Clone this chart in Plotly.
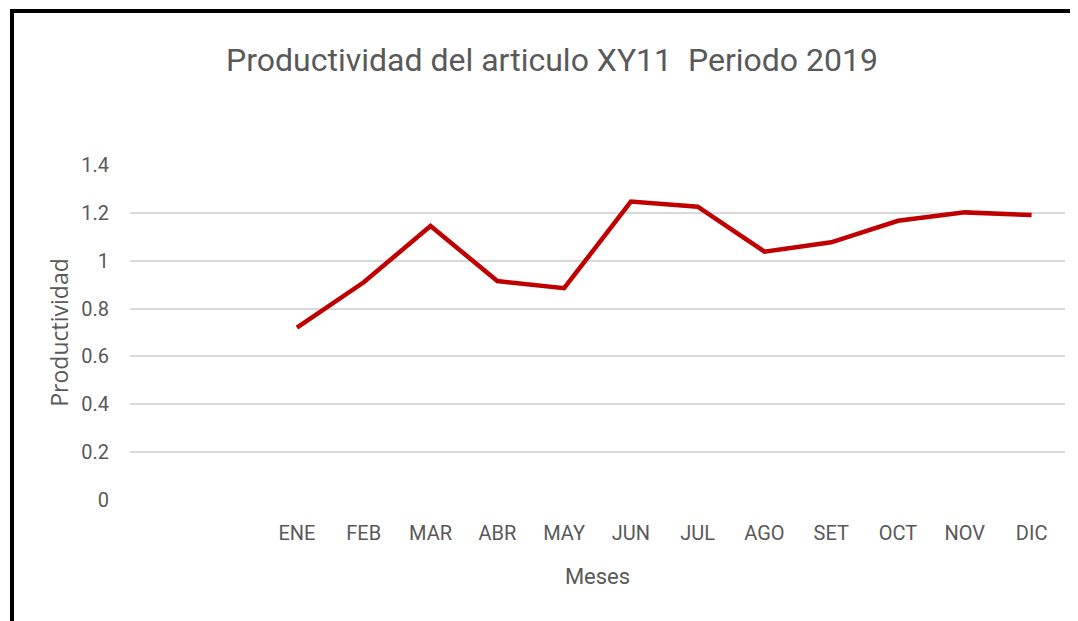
import plotly.graph_objects as go

placeholders = [" ", "  "]
months = ["ENE", "FEB", "MAR", "ABR", "MAY", "JUN", "JUL", "AGO", "SET", "OCT", "NOV", "DIC"]
productividad = [0.72, 0.91, 1.145, 0.915, 0.885, 1.247, 1.226, 1.038, 1.077, 1.167, 1.202, 1.191]
yticks = [0, 0.2, 0.4, 0.6, 0.8, 1, 1.2, 1.4]
yticktext = ["0", "0.2", "0.4", "0.6", "0.8", "1", "1.2", "1.4"]

FONT = "Liberation Sans Narrow, Roboto, sans-serif"
GRAY = "#595959"

# page body has an 8px margin; figure coordinates = page coordinates - 8
OFF = 8
W, H = 1078 - OFF, 621 - OFF
L = 130 - OFF
T = 165 - OFF
R = W - (1065 - OFF)
B = H - (500 - OFF)
pw, ph = W - L - R, H - T - B

def px(x):
    return (x - OFF - L) / pw

def py(y):
    return (H - B - (y - OFF)) / ph

fig = go.Figure()
fig.add_trace(go.Scatter(
    x=months, y=productividad, mode="lines",
    line=dict(color="#C00000", width=4.5),
    hoverinfo="skip", showlegend=False,
))

fig.update_layout(
    width=W, height=H,
    margin=dict(l=L, r=R, t=T, b=B),
    paper_bgcolor="white", plot_bgcolor="white",
    title=dict(
        text="Productividad del articulo XY11  Periodo 2019",
        x=(552 - OFF) / W, xref="container", xanchor="center",
        y=1 - (60 - OFF) / H, yref="container", yanchor="middle",
        font=dict(family=FONT, size=32, color=GRAY),
    ),
    xaxis=dict(
        type="category",
        categoryorder="array",
        categoryarray=placeholders + months,
        range=[-0.5, len(placeholders + months) - 0.5],
        showgrid=False, zeroline=False, showline=False,
        ticks="", tickfont=dict(family=FONT, size=20, color=GRAY),
        ticklabelstandoff=19,
        title=dict(text="Meses", font=dict(family=FONT, size=22, color=GRAY), standoff=24),
        fixedrange=True,
    ),
    yaxis=dict(
        range=[0, 1.4],
        tickvals=yticks, ticktext=yticktext,
        showgrid=True, gridcolor="#D9D9D9", gridwidth=1.5,
        zeroline=False, showline=False, ticks="",
        tickfont=dict(family=FONT, size=20, color=GRAY),
        ticklabelstandoff=20,
        title=dict(text="Productividad", font=dict(family="Open Sans, sans-serif", size=23, color=GRAY), standoff=6),
        fixedrange=True,
    ),
    shapes=[
        dict(type="line", xref="paper", yref="paper",
             x0=px(12), x1=px(12), y0=py(9), y1=py(640),
             line=dict(color="black", width=4)),
        dict(type="line", xref="paper", yref="paper",
             x0=px(10), x1=px(1090), y0=py(11), y1=py(11),
             line=dict(color="black", width=4)),
    ],
)

fig.write_html("out.html", config={"displayModeBar": False})
